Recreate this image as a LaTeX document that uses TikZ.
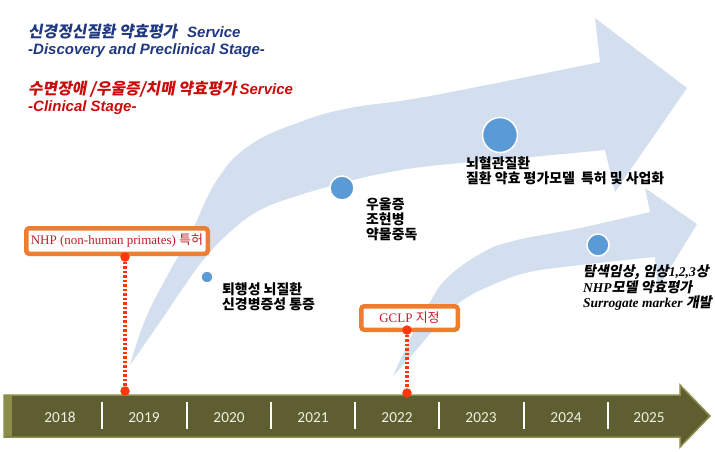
\documentclass[tikz,border=0pt]{standalone}
\usepackage{fontspec}
\setmainfont{Liberation Serif}
\newfontfamily\arialf{Liberation Sans}
\newfontfamily\kr{Noto Sans CJK KR}
\newfontfamily\krsl[FakeSlant=0.18]{Noto Sans CJK KR}
\newfontfamily\carl{Carlito}
\definecolor{arrowblue}{RGB}{211,223,239}
\definecolor{dotblue}{RGB}{91,155,213}
\definecolor{navyt}{RGB}{31,56,128}
\definecolor{redt}{RGB}{204,10,10}
\definecolor{boxred}{RGB}{192,30,40}
\definecolor{boxorange}{RGB}{237,125,49}
\definecolor{dotred}{RGB}{255,55,10}
\definecolor{olivedark}{RGB}{94,94,48}
\definecolor{olivelight}{RGB}{140,140,76}
\definecolor{yeartext}{RGB}{240,240,228}
\tikzset{
  bdot/.style={circle, fill=dotblue, draw=white, line width=1.5pt, inner sep=0pt},
  rdot/.style={circle, fill=dotred, inner sep=0pt, minimum size=9.5pt},
  obox/.style={draw=boxorange, fill=white, line width=4.5pt, rounded corners=3pt, inner sep=0pt, text=boxred, font=\fontsize{13}{15}\selectfont},
  dotline/.style={draw=dotred, line width=3.2pt, dash pattern=on 2.5pt off 2pt},
  ktext/.style={anchor=west, align=left, inner sep=0pt, font=\kr\bfseries\fontsize{13.9}{15}\selectfont},
  head/.style={anchor=west, inner sep=0pt, font=\fontsize{15}{17}\selectfont},
  year/.style={text=yeartext, inner sep=0pt, anchor=base, font=\carl\fontsize{15.3}{17}\selectfont},
  sep/.style={draw=white, line width=1.5pt}
}
\newcommand{\khd}{\krsl\bfseries\fontsize{15.8}{17}\selectfont}
\newcommand{\kit}{\krsl\fontsize{14}{15}\selectfont}
\begin{document}
\begin{tikzpicture}[x=1pt,y=-1pt]
\useasboundingbox (0,0) rectangle (715,451);

% big curved arrow
\fill[arrowblue] plot[smooth, tension=0.7] coordinates {(130,365) (145,320) (165,280) (190,235) (217,180) (250,145) (300,122) (350,108) (430,96) (600,62)}
  -- (595,18) -- (687,88) -- (615,192)
  -- plot[smooth, tension=0.7] coordinates {(605,150) (520,158) (430,166) (380,174) (342,183) (300,195) (260,210) (230,232) (205,258) (185,285) (160,322) (130,365)} -- cycle;

% second curved arrow
\fill[arrowblue] plot[smooth, tension=0.7] coordinates {(393,376) (413,333) (430,302) (447,278) (480,254) (513,241) (580,228) (650,212)}
  -- (645,188) -- (697,224) -- (658,288)
  -- plot[smooth, tension=0.7] coordinates {(655,257) (580,265) (530,272) (497,283) (463,300) (440,322) (418,348) (393,376)} -- cycle;

% headings
\node[head, text=navyt] (h1) at (28,32) {{\khd 신경정신질환 약효평가}\hspace{10pt}{\arialf\bfseries\itshape Service}};
\node[head, text=navyt] (h2) at (28,51) {\arialf\bfseries\itshape -Discovery and Preclinical Stage-};
\node[head, text=redt] (h3) at (28,89) {{\khd 수면장애 /우울증/치매 약효평가}\hspace{3pt}{\arialf\bfseries\itshape Service}};
\node[head, text=redt] (h4) at (28,108) {\arialf\bfseries\itshape -Clinical Stage-};

% blue dots
\node[bdot, minimum size=12pt] (d1) at (207,277) {};
\node[bdot, minimum size=24pt] (d2) at (342,188) {};
\node[bdot, minimum size=35pt] (d3) at (500,135) {};
\node[bdot, minimum size=22pt] (d4) at (598,245) {};

% labels
\node[ktext] (t1) at (222,297) {퇴행성 뇌질환\\신경병증성 통증};
\node[ktext] (t2) at (366,219) {우울증\\조현병\\약물중독};
\node[ktext] (t3) at (466,171) {뇌혈관질환\\질환 약효 평가모델\hspace{3pt} 특허 및 사업화};
\node[anchor=west, align=left, inner sep=0pt, font=\fontsize{13.5}{15}\selectfont\bfseries] (t4) at (583,288)
  {{\kit 탐색임상,} {\kit 임상}\textit{1,2,3}{\kit 상}\\\textit{NHP}{\kit 모델 약효평가}\\\textit{Surrogate marker} {\kit 개발}};

% timeline
\fill[olivedark] (4,395) -- (680,395) -- (680,385) -- (710,416) -- (680,447) -- (680,437) -- (4,437) -- cycle;
\draw[olivelight, line width=1.5pt] (4,395) -- (680,395) -- (680,385) -- (710,416) -- (680,447) -- (680,437) -- (4,437) -- cycle;
\fill[olivelight] (4,395.75) rectangle (12,436.25);
\foreach \x in {102,187,271,355,439,524,608} \draw[sep] (\x,402) -- (\x,429);
\node[year] (y18) at (60,422) {2018};
\node[year] (y19) at (144,422) {2019};
\node[year] (y20) at (229,422) {2020};
\node[year] (y21) at (313,422) {2021};
\node[year] (y22) at (397,422) {2022};
\node[year] (y23) at (481,422) {2023};
\node[year] (y24) at (566,422) {2024};
\node[year] (y25) at (649,422) {2025};

% milestone boxes
\node[obox, minimum width=181.5pt, minimum height=25.5pt] (nhp) at (117,241) {NHP (non-human primates) {\kr 특허}};
\node[obox, minimum width=96.5pt, minimum height=23.5pt] (gclp) at (409.5,318) {GCLP {\kr 지정}};

\node[rdot] (nhptop) at (125,257) {};
\node[rdot] (nhpbot) at (125,391) {};
\node[rdot] (gclptop) at (407,330) {};
\node[rdot] (gclpbot) at (407,393) {};
\draw[dotline] (nhptop) -- (nhpbot);
\draw[dotline] (gclptop) -- (gclpbot);
\end{tikzpicture}
\end{document}
